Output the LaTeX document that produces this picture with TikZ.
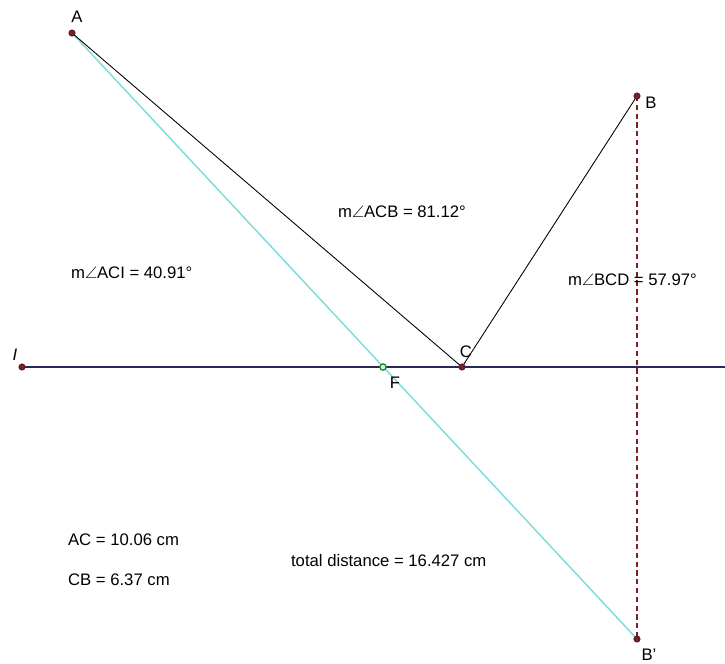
\documentclass[tikz,border=0pt]{standalone}
\usepackage{amssymb}
\usepackage{xcolor}
\usepackage{fontspec}
\setmainfont{Liberation Sans}
\usetikzlibrary{positioning,backgrounds}

\definecolor{ptred}{RGB}{122,30,40}
\definecolor{lineblue}{RGB}{40,40,90}
\definecolor{mirror}{RGB}{120,220,220}
\definecolor{ptgreen}{RGB}{40,120,50}

\tikzset{
    pt/.style={circle, fill=ptred, draw=ptred!70!black, inner sep=0pt, minimum size=3.6pt},
    ptF/.style={circle, fill=green!25, draw=ptgreen, line width=0.7pt, inner sep=0pt, minimum size=3.6pt},
    lbl/.style={font=\fontsize{9.5}{11}\selectfont, inner sep=1pt},
    meas/.style={font=\fontsize{9.5}{11}\selectfont, anchor=west, inner sep=1pt}
}

\begin{document}
\begin{tikzpicture}[x=0.02cm, y=-0.02cm]
    \useasboundingbox (0,0) rectangle (725,664);

    % Points
    \node[pt] (A) at (72,33) {};
    \node[pt] (B) at (637,96) {};
    \node[pt] (C) at (462,367) {};
    \node[pt] (I) at (22,367) {};
    \node[pt] (Bp) at (637,639) {};
    \node[ptF] (F) at (383,367) {};
    \coordinate (lineend) at (725,367);

    % Lines
    \begin{scope}[on background layer]
        \draw[lineblue, line width=0.6pt] (I.center) -- (lineend);
        \draw[mirror, line width=0.8pt] (A.center) -- (Bp.center);
        \draw[black, line width=0.5pt] (A.center) -- (C.center) -- (B.center);
        \draw[ptred, dashed, line width=0.6pt, dash pattern=on 3pt off 2pt] (B.center) -- (Bp.center);
    \end{scope}

    % Point labels
    \node[lbl] (labA) at (77,17) {A};
    \node[lbl] (labB) at (651,103) {B};
    \node[lbl] (labC) at (466,352) {C};
    \node[lbl] (labF) at (395,383) {F};
    \node[lbl] (labI) at (15,355) {\textit{I}};
    \node[lbl] (labBp) at (649,655) {B'};

    % Measurements
    \node[meas] (angACB) at (336,212) {m$\angle$ACB = 81.12°};
    \node[meas] (angACI) at (69,273) {m$\angle$ACI = 40.91°};
    \node[meas] (angBCD) at (566,280) {m$\angle$BCD = 57.97°};
    \node[meas] (distAC) at (66,540) {AC = 10.06 cm};
    \node[meas] (distCB) at (66,580) {CB = 6.37 cm};
    \node[meas] (total) at (289,561) {total distance = 16.427 cm};
\end{tikzpicture}
\end{document}
